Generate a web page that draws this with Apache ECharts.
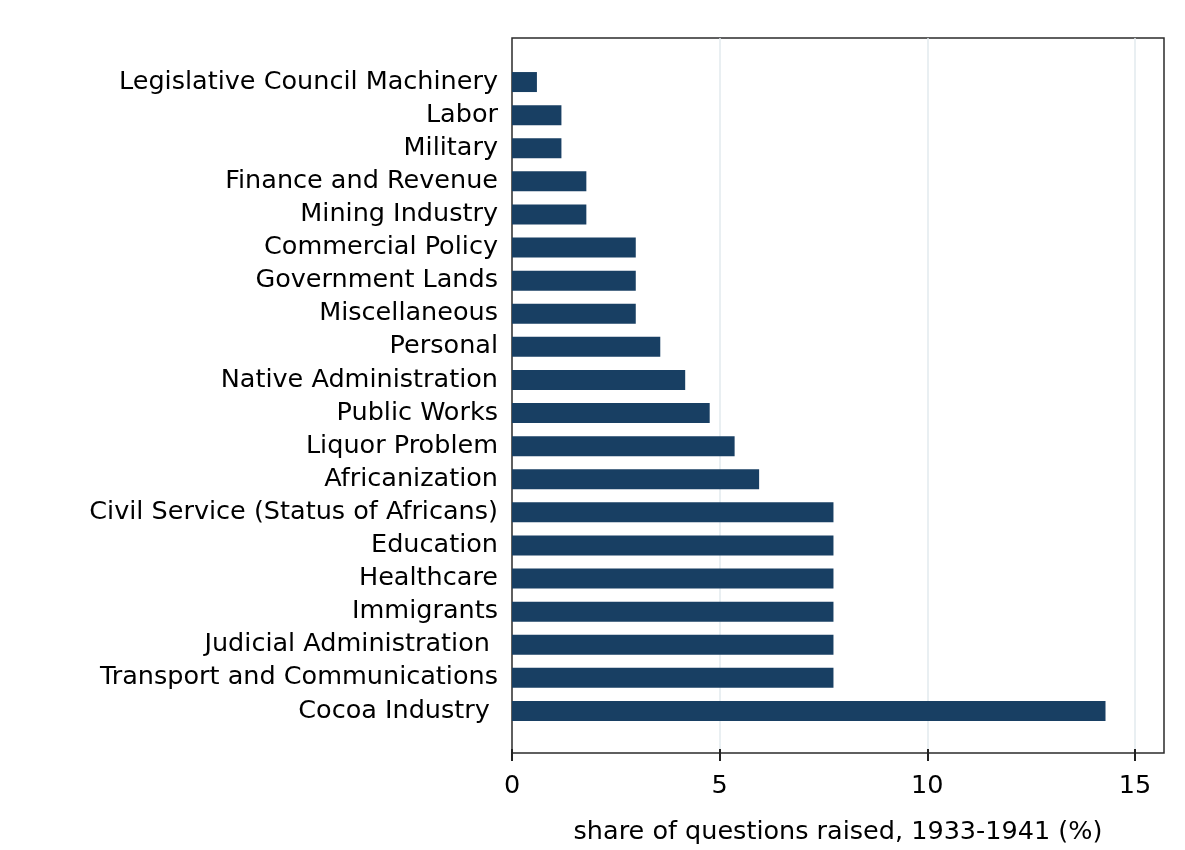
<!DOCTYPE html>
<html lang="en">
  <head>
    <meta charset="UTF-8" />
    <meta name="viewport" content="width=device-width, initial-scale=1.0" />
    <script src="https://cdn.jsdelivr.net/npm/echarts@6/dist/echarts.min.js"></script>
    <title>Questions raised</title>
    <style>
      html,
      body {
        margin: 0;
        background: #fff;
      }
      #app {
        width: 1185px;
        height: 850px;
      }
    </style>
  </head>
  <body>
    <div id="app"></div>

    <script>
      // categories listed top to bottom
      const topics = [
        "Legislative Council Machinery",
        "Labor",
        "Military",
        "Finance and Revenue",
        "Mining Industry",
        "Commercial Policy",
        "Government Lands",
        "Miscellaneous",
        "Personal",
        "Native Administration",
        "Public Works",
        "Liquor Problem",
        "Africanization",
        "Civil Service (Status of Africans)",
        "Education",
        "Healthcare",
        "Immigrants",
        "Judicial Administration ",
        "Transport and Communications",
        "Cocoa Industry ",
      ];
      // share of questions raised, 1933-1941 (%)
      const shares = [
        0.6, 1.19, 1.19, 1.79, 1.79, 2.98, 2.98, 2.98, 3.57, 4.17, 4.76, 5.36,
        5.95, 7.74, 7.74, 7.74, 7.74, 7.74, 7.74, 14.29,
      ];

      const font = "DejaVu Sans";
      const ink = "#2b2b2b";
      const echart = echarts.init(document.getElementById("app"));

      echart.setOption({
        backgroundColor: "#fff",
        animation: false,
        grid: [
          // bars, 0..15 spans 623px
          { left: 512, width: 623, top: 65.5, height: 662 },
          // ticks, labels and gridlines
          { left: 512, width: 623, top: 38, height: 715 },
          // frame box (runs a bit past 15)
          {
            left: 512,
            width: 652,
            top: 38,
            height: 715,
            show: true,
            borderColor: ink,
            borderWidth: 1.5,
          },
        ],
        xAxis: [
          { gridIndex: 0, type: "value", min: 0, max: 15, show: false },
          {
            gridIndex: 1,
            type: "value",
            min: 0,
            max: 15,
            interval: 5,
            name: "share of questions raised, 1933-1941 (%)",
            nameLocation: "middle",
            nameGap: 70,
            nameTextStyle: {
              fontFamily: font,
              fontSize: 25.5,
              color: "#000",
              padding: [0, 0, 0, 29],
            },
            axisLine: { show: false },
            axisTick: {
              show: true,
              length: 12,
              lineStyle: { color: "#222", width: 2 },
            },
            axisLabel: {
              margin: 24,
              fontFamily: font,
              fontSize: 25.5,
              color: "#000",
            },
            splitLine: {
              show: true,
              showMinLine: false,
              lineStyle: { color: "#e2eaee", width: 1.5 },
            },
          },
          { gridIndex: 2, type: "value", show: false },
        ],
        yAxis: [
          {
            gridIndex: 0,
            type: "category",
            data: topics,
            inverse: true,
            axisLine: { show: false },
            axisTick: { show: false },
            axisLabel: {
              interval: 0,
              margin: 14,
              padding: [6, 0, 0, 0],
              fontFamily: font,
              fontSize: 25.5,
              color: "#000",
            },
          },
          { gridIndex: 1, type: "value", show: false },
          { gridIndex: 2, type: "value", show: false },
        ],
        series: [
          {
            type: "bar",
            xAxisIndex: 0,
            yAxisIndex: 0,
            data: shares,
            barWidth: 20,
            itemStyle: { color: "#183f63" },
          },
        ],
      });
    </script>
  </body>
</html>
